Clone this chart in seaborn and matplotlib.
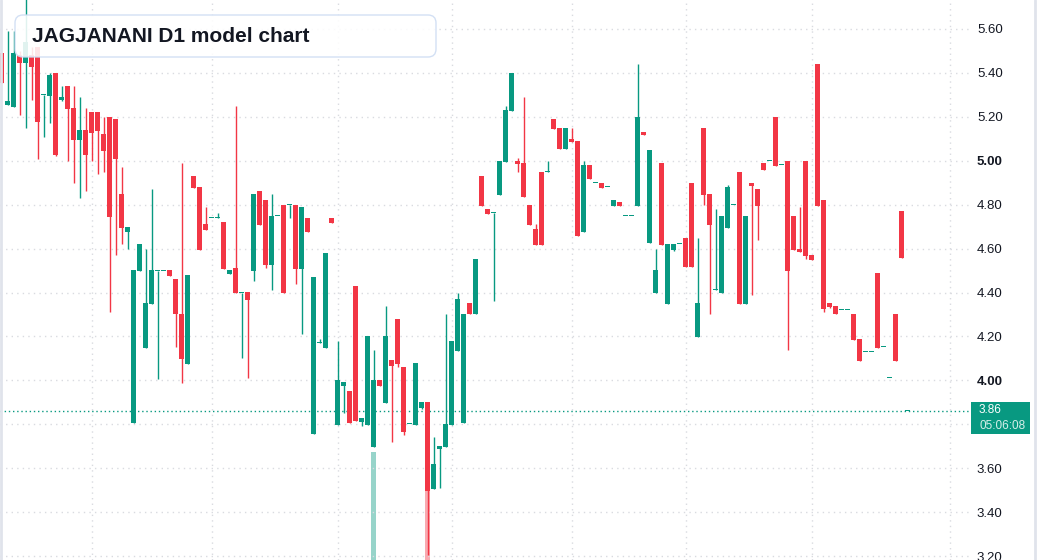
import matplotlib
matplotlib.use("Agg")
import matplotlib.pyplot as plt
from matplotlib.patches import FancyBboxPatch, Rectangle
from matplotlib.lines import Line2D
from matplotlib.transforms import IdentityTransform
import numpy as np
import seaborn as sns

sns.set_theme(style="white")
plt.rcParams["font.family"] = ["Liberation Sans", "DejaVu Sans"]

GREEN = "#089981"
RED = "#F23645"

# daily OHLC, oldest first (first candle is cut off at the left edge)
opens = [5.49, 5.254, 5.246, 5.48, 5.445, 5.48, 5.52, 5.30, 5.295, 5.40,
         5.277, 5.34, 5.24, 5.094, 5.14, 5.222, 5.222, 5.122, 5.20, 5.19,
         4.849, 4.675, 3.806, 4.498, 4.147, 4.348, 4.50, 4.50, 4.503, 4.462,
         4.302, 4.074, 4.93, 4.88, 4.712, 4.74, 4.74, 4.721, 4.484, 4.512,
         4.40, 4.402, 4.498, 4.862, 4.821, 4.525, 4.748, 4.80, 4.80, 4.80,
         4.507, 4.739, 3.756, 4.17, 4.147, 4.739, 3.797, 3.974, 3.952, 4.43,
         3.81, 3.797, 3.696, 4.002, 3.897, 4.093, 4.28, 4.06, 3.80, 3.797,
         3.874, 3.90, 3.505, 3.687, 3.696, 3.797, 4.134, 3.806, 4.352, 4.30,
         4.93, 4.78, 4.76, 4.844, 4.994, 5.227, 5.00, 4.99, 4.80, 4.69,
         4.949, 4.95, 5.19, 5.149, 5.054, 5.10, 5.09, 4.675, 4.98, 4.90,
         4.90, 4.88, 4.794, 4.812, 4.748, 4.748, 4.794, 5.13, 4.626, 4.398,
         4.99, 4.348, 4.594, 4.62, 4.648, 4.90, 4.197, 5.149, 4.849, 4.41,
         4.40, 4.694, 4.80, 4.949, 4.348, 4.90, 4.872, 4.99, 5.00, 5.20,
         4.98, 5.00, 4.748, 4.60, 5.00, 4.571, 5.44, 4.821, 4.352, 4.338,
         4.32, 4.32, 4.302, 4.188, 4.13, 4.13, 4.489, 4.15, 4.01, 4.302,
         4.771, 3.86]
highs = [5.49, 5.59, 5.59, 5.50, 5.75, 5.52, 5.52, 5.30, 5.40, 5.40,
         5.34, 5.34, 5.34, 5.29, 5.24, 5.222, 5.222, 5.20, 5.20, 5.19,
         4.97, 4.698, 4.503, 4.62, 4.60, 4.87, 4.50, 4.50, 4.503, 4.462,
         4.99, 4.48, 4.93, 4.88, 4.79, 4.74, 4.76, 4.721, 4.503, 5.25,
         4.40, 4.402, 4.849, 4.862, 4.821, 4.849, 4.748, 4.80, 4.80, 4.80,
         4.789, 4.739, 4.471, 4.188, 4.58, 4.739, 4.18, 3.992, 3.952, 4.43,
         3.83, 4.20, 4.138, 4.002, 4.338, 4.093, 4.28, 4.06, 3.80, 4.079,
         3.90, 3.90, 3.74, 3.70, 4.30, 4.18, 4.40, 4.302, 4.352, 4.553,
         4.93, 4.78, 4.76, 5.00, 5.25, 5.40, 5.013, 5.29, 4.80, 4.712,
         4.949, 5.00, 5.19, 5.149, 5.149, 5.149, 5.09, 5.00, 4.98, 4.90,
         4.90, 4.88, 4.821, 4.812, 4.748, 4.748, 5.44, 5.13, 5.049, 4.60,
         4.99, 4.621, 4.621, 4.62, 4.648, 4.90, 4.648, 5.149, 4.849, 4.78,
         4.748, 4.89, 4.80, 4.949, 4.748, 4.90, 4.872, 4.99, 5.00, 5.20,
         4.98, 5.00, 4.748, 4.79, 5.00, 4.571, 5.44, 4.821, 4.352, 4.338,
         4.32, 4.32, 4.302, 4.188, 4.13, 4.13, 4.489, 4.15, 4.01, 4.302,
         4.771, 3.86]
lows = [5.355, 5.254, 5.246, 5.21, 5.15, 5.277, 5.01, 5.108, 5.172, 5.02,
        5.272, 5.00, 4.90, 4.83, 4.862, 5.00, 4.94, 4.95, 4.31, 4.57,
        4.62, 4.60, 3.806, 4.498, 4.147, 4.348, 4.006, 4.50, 4.475, 4.152,
        3.99, 4.074, 4.876, 4.594, 4.685, 4.74, 4.74, 4.507, 4.484, 4.40,
        4.10, 4.01, 4.452, 4.707, 4.51, 4.411, 4.748, 4.40, 4.74, 4.439,
        4.211, 4.675, 3.756, 4.17, 4.147, 4.716, 3.797, 3.85, 3.806, 3.815,
        3.79, 3.797, 3.696, 3.974, 3.897, 3.72, 4.06, 3.75, 3.80, 3.797,
        3.87, 3.205, 3.505, 3.51, 3.696, 3.797, 4.134, 3.806, 4.30, 4.30,
        4.794, 4.757, 4.36, 4.844, 4.994, 5.227, 4.95, 4.835, 4.708, 4.616,
        4.616, 4.95, 5.145, 5.054, 5.054, 5.085, 4.657, 4.675, 4.917, 4.90,
        4.876, 4.88, 4.794, 4.794, 4.748, 4.748, 4.794, 5.117, 4.626, 4.398,
        4.616, 4.348, 4.59, 4.62, 4.516, 4.516, 4.197, 4.80, 4.30, 4.41,
        4.40, 4.694, 4.80, 4.348, 4.348, 4.39, 4.64, 4.958, 5.00, 4.976,
        4.98, 4.138, 4.594, 4.585, 4.553, 4.548, 4.794, 4.31, 4.33, 4.30,
        4.32, 4.32, 4.184, 4.088, 4.13, 4.13, 4.147, 4.15, 4.01, 4.088,
        4.557, 3.86]
closes = [5.355, 5.272, 5.492, 5.445, 5.54, 5.427, 5.177, 5.30, 5.39, 5.026,
          5.29, 5.236, 5.094, 5.14, 5.026, 5.127, 5.136, 5.044, 4.744, 5.008,
          4.694, 4.698, 4.503, 4.62, 4.352, 4.503, 4.50, 4.50, 4.475, 4.30,
          4.097, 4.48, 4.876, 4.594, 4.685, 4.74, 4.74, 4.507, 4.503, 4.40,
          4.40, 4.366, 4.849, 4.707, 4.525, 4.748, 4.748, 4.40, 4.80, 4.507,
          4.789, 4.675, 4.471, 4.17, 4.58, 4.716, 4.002, 3.992, 3.806, 3.815,
          3.83, 4.20, 4.002, 3.974, 4.20, 4.066, 4.075, 3.765, 3.80, 4.079,
          3.90, 3.496, 3.62, 3.70, 3.80, 4.18, 4.37, 4.302, 4.30, 4.553,
          4.794, 4.757, 4.76, 5.00, 5.23, 5.40, 4.986, 4.835, 4.708, 4.616,
          4.616, 4.95, 5.145, 5.054, 5.149, 5.085, 4.657, 4.98, 4.917, 4.90,
          4.876, 4.88, 4.821, 4.794, 4.748, 4.748, 5.20, 5.117, 5.049, 4.503,
          4.616, 4.621, 4.621, 4.62, 4.516, 4.516, 4.352, 4.844, 4.707, 4.41,
          4.748, 4.88, 4.80, 4.348, 4.748, 4.885, 4.794, 4.958, 5.00, 4.976,
          4.98, 4.498, 4.594, 4.585, 4.566, 4.548, 4.794, 4.325, 4.334, 4.30,
          4.32, 4.32, 4.184, 4.088, 4.13, 4.13, 4.147, 4.15, 4.01, 4.088,
          4.557, 3.86]
# volume in millions, only two sessions stand out on this scale
volume_bars = {62: 1.08, 71: 0.70}

last_price = 3.86
countdown = "05:06:08"
price_ticks = [3.20, 3.40, 3.60, 3.80, 4.00, 4.20, 4.40, 4.60, 4.80, 5.00, 5.20, 5.40, 5.60]
month_lines = [15, 35, 56, 75, 95, 114, 135, 158]

n = len(opens)
idx = np.arange(n)
o = np.array(opens); h = np.array(highs); l = np.array(lows); c = np.array(closes)
up = c >= o
colors = np.where(up, GREEN, RED)
volume = np.zeros(n)
for k, v in volume_bars.items():
    volume[k] = v

W, H = 1037, 560
fig = plt.figure(figsize=(W / 100, H / 100), dpi=100)
fig.patch.set_facecolor("white")
rect = [0, 0, 970 / W, 1]
x0, x1 = -0.25, (970 - 7.5) / 6 + 1

# volume underneath
vax = fig.add_axes(rect, label="vol")
vax.bar(idx, volume, width=0.84, color=colors, alpha=0.42, linewidth=0)
vax.set_xlim(x0, x1)
vax.set_ylim(0, 5.6)
vax.axis("off")

ax = fig.add_axes(rect, label="price")
ax.patch.set_alpha(0)
ax.set_xlim(x0, x1)
ax.set_ylim(3.182, 5.732)

dot = (0, (1, 3))
for p in price_ticks:
    ax.axhline(p, color="#d9dbe0", lw=1, ls=dot, zorder=0)
for m in month_lines:
    ax.axvline(m, color="#d9dbe0", lw=1, ls=dot, zorder=0)

ax.vlines(idx, l, h, colors=colors, lw=1, zorder=2)
body_lo = np.minimum(o, c)
body_h = np.maximum(np.abs(c - o), 0.0046)
ax.bar(idx, body_h, bottom=body_lo, width=0.84, color=colors, linewidth=0, zorder=3)

ax.axhline(last_price, color=GREEN, lw=1, ls=(0, (1, 2)), zorder=1)

for s in ax.spines.values():
    s.set_visible(False)
ax.set_xticks([])
ax.yaxis.tick_right()
ax.set_yticks(price_ticks)
# the 3.80 label sits under the last-price tag, so it is not shown
ax.set_yticklabels(["" if abs(p - 3.80) < 1e-9 else f"{p:.2f}" for p in price_ticks])
ax.tick_params(axis="y", length=0, pad=5, labelsize=9.5, labelcolor="#131722")
for lbl in ax.get_yticklabels():
    if lbl.get_text() in ("5.00", "4.00"):
        lbl.set_fontweight("bold")

# last price tag
yp = ax.transData.transform((0, last_price))[1]
fig.add_artist(Rectangle((971, yp - 23), 59, 32, transform=IdentityTransform(),
                         facecolor=GREEN, edgecolor="none", zorder=5))
fig.text(979 / W, (yp + 1.5) / H, f"{last_price:.2f}", color="white", fontsize=8.5,
         va="center", zorder=6)
fig.text(979 / W, (yp - 14.5) / H, countdown, color="#d5efe9", fontsize=8.5,
         va="center", zorder=6)

# frame lines
fig.add_artist(Line2D([0.5, 0.5], [0, H], transform=IdentityTransform(), color="#e0e3eb", lw=2))
fig.add_artist(Line2D([1035, 1035], [0, H], transform=IdentityTransform(), color="#e0e3eb", lw=2))

# title box
fig.add_artist(FancyBboxPatch((15, H - 57), 421, 42, boxstyle="round,pad=0,rounding_size=8",
                              transform=IdentityTransform(), facecolor="white",
                              edgecolor="#cddcf3", lw=1, alpha=0.88, zorder=7))
fig.text(32 / W, 1 - 37 / H, "JAGJANANI D1 model chart", fontsize=15, fontweight="bold",
         color="#131722", va="center", zorder=8)

fig.savefig("out.png", dpi=100)
